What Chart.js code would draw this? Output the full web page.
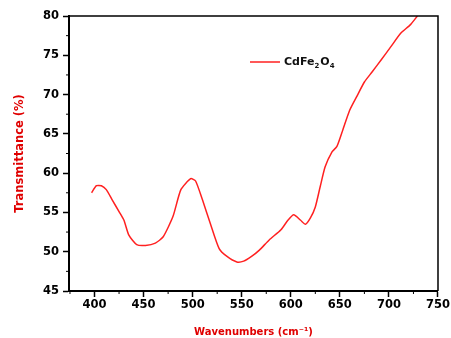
<!DOCTYPE html>
<html>
<head>
<meta charset="utf-8">
<script src="https://cdn.jsdelivr.net/npm/chart.js@4.4.0/dist/chart.umd.min.js"></script>
<style>
  html, body { margin: 0; padding: 0; background: #fff; }
  #wrap { width: 451px; height: 338px; }
</style>
</head>
<body>
<div id="wrap"><canvas id="chart" width="451" height="338"></canvas></div>
<script>
// FTIR spectrum of CdFe2O4
var wavenumbers = [397, 402, 407, 412, 418, 425, 430, 435, 443, 452, 462, 470, 480, 488, 498, 503,
  510, 518, 527, 535, 545, 552, 560, 568, 578, 590, 597, 603, 610, 615, 620, 625, 630, 635,
  642, 647, 653, 660, 667, 675, 683, 692, 702, 712, 722, 729];
var transmittance = [57.5, 58.4, 58.4, 57.9, 56.6, 55.1, 54.0, 52.1, 50.9, 50.8, 51.1, 51.9, 54.5, 57.9, 59.3, 59.0,
  56.6, 53.6, 50.4, 49.4, 48.7, 48.8, 49.4, 50.2, 51.5, 52.8, 54.0, 54.7, 54.0, 53.5, 54.3, 55.7, 58.3, 60.8,
  62.7, 63.4, 65.5, 68.0, 69.7, 71.6, 72.9, 74.4, 76.1, 77.8, 78.9, 80.0];
var xTicks = [400, 450, 500, 550, 600, 650, 700, 750];
var yTicks = [45, 50, 55, 60, 65, 70, 75, 80];
var seriesName = ["CdFe", "2", "O", "4"];

var tickFont = { family: "DejaVu Sans", weight: "bold", size: 11.5 };

// minor ticks, top/right frame and the inset legend
var extras = {
  id: "extras",
  afterDraw: function (chart) {
    var c = chart.ctx, a = chart.chartArea;
    var xs = chart.scales.x, ys = chart.scales.y;
    c.save();
    c.strokeStyle = "#000";
    c.lineWidth = 1.5;
    c.beginPath();
    c.moveTo(a.left, a.top); c.lineTo(a.right, a.top); c.lineTo(a.right, a.bottom);
    c.stroke();
    c.lineWidth = 1;
    c.beginPath();
    for (var i = 0; i < xTicks.length - 1; i++) {
      var px = xs.getPixelForValue((xTicks[i] + xTicks[i + 1]) / 2);
      c.moveTo(px, a.bottom); c.lineTo(px, a.bottom + 3);
    }
    var lx = xs.getPixelForValue(xTicks[0] - 25);
    if (lx > a.left) { c.moveTo(lx, a.bottom); c.lineTo(lx, a.bottom + 3); }
    for (var j = 0; j < yTicks.length - 1; j++) {
      var py = ys.getPixelForValue((yTicks[j] + yTicks[j + 1]) / 2);
      c.moveTo(a.left, py); c.lineTo(a.left - 3, py);
    }
    c.stroke();

    // legend
    var ly = a.top + 46, x0 = a.left + 181;
    c.strokeStyle = "#ff2020";
    c.lineWidth = 1.5;
    c.beginPath(); c.moveTo(x0, ly); c.lineTo(x0 + 30, ly); c.stroke();
    c.fillStyle = "#111";
    c.textBaseline = "middle";
    var tx = x0 + 34;
    c.font = "bold 11px 'DejaVu Sans'";
    c.fillText(seriesName[0], tx, ly); tx += c.measureText(seriesName[0]).width;
    c.font = "bold 7px 'DejaVu Sans'";
    c.fillText(seriesName[1], tx, ly + 4); tx += c.measureText(seriesName[1]).width + 1;
    c.font = "bold 11px 'DejaVu Sans'";
    c.fillText(seriesName[2], tx, ly); tx += c.measureText(seriesName[2]).width;
    c.font = "bold 7px 'DejaVu Sans'";
    c.fillText(seriesName[3], tx, ly + 4);
    c.restore();
  }
};

var ctx = document.getElementById("chart").getContext("2d");
var chart = new Chart(ctx, {
  type: "line",
  data: {
    datasets: [{
      label: "CdFe2O4",
      data: wavenumbers.map(function (w, i) { return { x: w, y: transmittance[i] }; }),
      borderColor: "#ff2020",
      borderWidth: 1.5,
      pointRadius: 0,
      tension: 0.2,
      fill: false
    }]
  },
  options: {
    responsive: false,
    animation: false,
    layout: { padding: { top: 16, right: 7, left: 0, bottom: 0 } },
    plugins: { legend: { display: false }, tooltip: { enabled: false } },
    scales: {
      x: {
        type: "linear",
        min: 374,
        max: 750,
        afterBuildTicks: function (s) { s.ticks = xTicks.map(function (v) { return { value: v }; }); },
        afterFit: function (s) { s.height = 47; },
        grid: { drawOnChartArea: false, drawTicks: true, tickLength: 6, tickColor: "#000", tickWidth: 1.5 },
        border: { display: true, color: "#000", width: 2 },
        ticks: { color: "#000", font: tickFont, padding: 1, maxRotation: 0, autoSkip: false },
        title: {
          display: true,
          text: "Wavenumbers (cm\u207B\u00B9)",
          color: "#e00000",
          font: { family: "DejaVu Sans", weight: "bold", size: 10 },
          padding: { top: 0, bottom: 0 }
        }
      },
      y: {
        min: 45,
        max: 80,
        afterBuildTicks: function (s) { s.ticks = yTicks.map(function (v) { return { value: v }; }); },
        afterFit: function (s) { s.width = 69; },
        grid: { drawOnChartArea: false, drawTicks: true, tickLength: 6, tickColor: "#000", tickWidth: 1.5 },
        border: { display: true, color: "#000", width: 2 },
        ticks: { color: "#000", font: tickFont, padding: 4 },
        title: {
          display: true,
          text: "Transmittance (%)",
          color: "#e00000",
          font: { family: "DejaVu Sans", weight: "bold", size: 11.5 },
          padding: { top: 13, bottom: 0 }
        }
      }
    }
  },
  plugins: [extras]
});
</script>
</body>
</html>
